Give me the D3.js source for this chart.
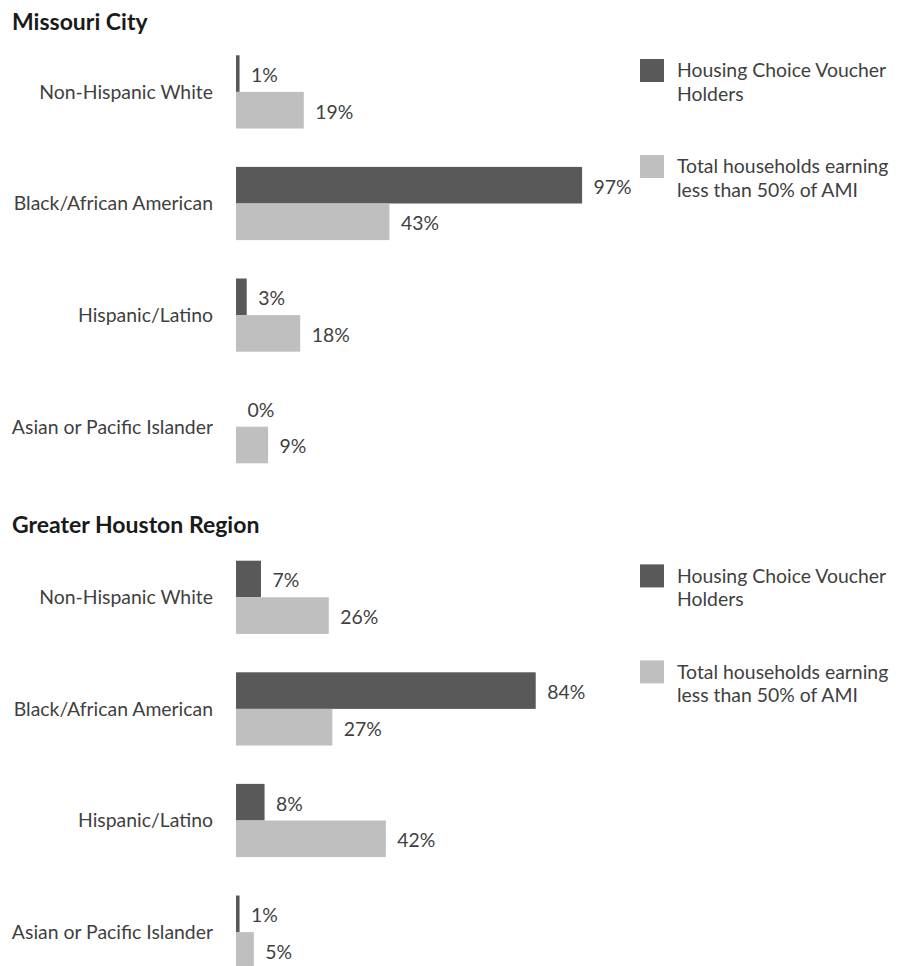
<!DOCTYPE html>
<html>
<head>
<meta charset="utf-8">
<script src="https://cdn.jsdelivr.net/npm/d3@7/dist/d3.min.js"></script>
<style>
  html, body { margin: 0; padding: 0; background: #fff; }
  svg { display: block; }
  text { font-family: Lato, "Open Sans", sans-serif; }
</style>
</head>
<body>
<svg id="chart" width="903" height="966"></svg>
<script>
// Race/ethnicity breakdown: voucher holders vs. low-income households
const categories = [
  "Non-Hispanic White",
  "Black/African American",
  "Hispanic/Latino",
  "Asian or Pacific Islander"
];
const seriesKeys = ["voucher", "lowIncome"];
const legendLines = [
  ["Housing Choice Voucher", "Holders"],
  ["Total households earning", "less than 50% of AMI"]
];
const panelTitles = ["Missouri City", "Greater Houston Region"];

// Shares in percent, in category order
const missouriVoucher   = [1, 97, 3, 0];
const missouriLowIncome = [19, 43, 18, 9];
const houstonVoucher    = [7, 84, 8, 1];
const houstonLowIncome  = [26, 27, 42, 5];

const panels = [
  { title: panelTitles[0], voucher: missouriVoucher, lowIncome: missouriLowIncome },
  { title: panelTitles[1], voucher: houstonVoucher,  lowIncome: houstonLowIncome }
];

const colors = { voucher: "#595959", lowIncome: "#bfbfbf" };
const textColor = "#3f3f3f";
const labelSize = 19.4;

const svg = d3.select("#chart");

const x = d3.scaleLinear().domain([0, 100]).range([236, 236 + 356.8]);

const y = d3.scaleBand()
  .domain(categories)
  .range([36.1, 36.1 + 4 * 111.6])
  .paddingInner(0.344)
  .paddingOuter(0.172);

const ySeries = d3.scaleBand()
  .domain(seriesKeys)
  .range([0, y.bandwidth()])
  .padding(0);

const panelOffset = 505.4;

panels.forEach((p, i) => {
  const g = svg.append("g").attr("transform", `translate(0,${i * panelOffset})`);

  // panel title
  g.append("text")
    .attr("x", 12)
    .attr("y", i === 0 ? 30 : 27.6)
    .attr("font-size", 23)
    .attr("font-weight", "bold")
    .attr("fill", "#1a1a1a")
    .text(p.title);

  // category labels
  g.selectAll("text.cat")
    .data(categories)
    .join("text")
    .attr("class", "cat")
    .attr("x", 213)
    .attr("y", d => y(d) + y.bandwidth() / 2)
    .attr("dy", "0.36em")
    .attr("text-anchor", "end")
    .attr("font-size", labelSize)
    .attr("fill", textColor)
    .text(d => d);

  const rows = categories.flatMap((c, j) => seriesKeys.map(k => ({ cat: c, key: k, value: p[k][j] })));

  // bars
  g.selectAll("rect.bar")
    .data(rows)
    .join("rect")
    .attr("class", "bar")
    .attr("x", x(0))
    .attr("y", d => y(d.cat) + ySeries(d.key))
    .attr("width", d => x(d.value) - x(0))
    .attr("height", ySeries.bandwidth())
    .attr("fill", d => colors[d.key]);

  // value labels
  g.selectAll("text.val")
    .data(rows)
    .join("text")
    .attr("class", "val")
    .attr("x", d => x(d.value) + 11.5)
    .attr("y", d => y(d.cat) + ySeries(d.key) + ySeries.bandwidth() / 2 + 1.5)
    .attr("dy", "0.36em")
    .attr("font-size", labelSize)
    .attr("fill", textColor)
    .text(d => d.value + "%");

  // legend
  const legend = g.append("g").attr("class", "legend");
  seriesKeys.forEach((k, j) => {
    const top = 59 + j * 96;
    legend.append("rect")
      .attr("x", 640)
      .attr("y", top)
      .attr("width", 24)
      .attr("height", 23)
      .attr("fill", colors[k]);
    legendLines[j].forEach((line, m) => {
      legend.append("text")
        .attr("x", 677)
        .attr("y", top + 11.5 + m * 23.5)
        .attr("dy", "0.36em")
        .attr("font-size", labelSize)
        .attr("fill", textColor)
        .text(line);
    });
  });
});
</script>
</body>
</html>
